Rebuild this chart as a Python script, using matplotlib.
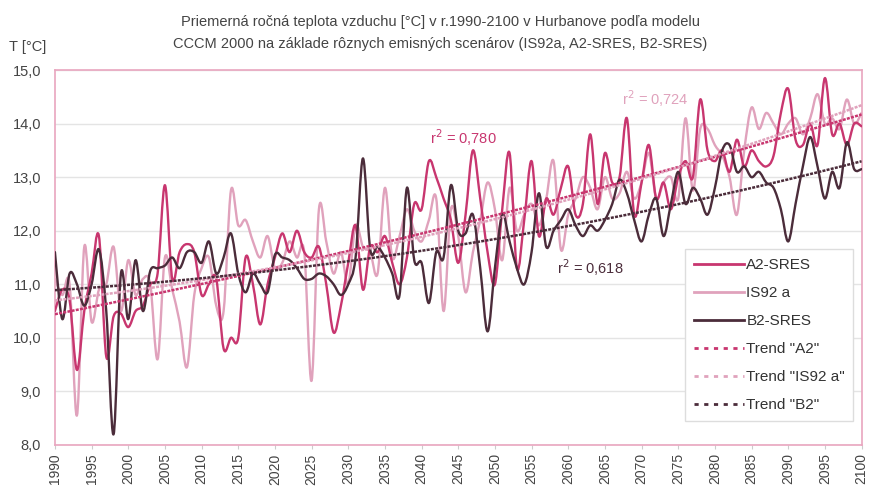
import numpy as np
import matplotlib
matplotlib.use('Agg')
import matplotlib.pyplot as plt
from matplotlib.path import Path
from matplotlib.patches import PathPatch
from matplotlib.lines import Line2D

plt.rcParams['font.family'] = ['Liberation Sans', 'DejaVu Sans']

years = np.arange(1990, 2101)

a2_sres = [10.5, 10.9, 10.7, 9.4, 10.5, 11.2, 11.9, 9.65, 10.4, 10.45,
           10.2, 10.5, 10.6, 11.0, 11.2, 12.85, 11.1, 11.6, 11.75, 11.6,
           10.8, 11.0, 11.1, 9.8, 10.0, 10.0, 11.5, 11.0, 10.25, 11.0,
           11.5, 11.95, 11.6, 12.0, 11.6, 11.5, 11.7, 11.0, 10.1, 10.6,
           11.4, 12.1, 10.9, 11.7, 11.6, 11.9, 11.4, 11.0, 11.5, 12.5,
           12.4, 13.3, 13.0, 12.6, 12.2, 11.4, 12.3, 13.5, 12.6, 11.6,
           11.0, 12.4, 13.45, 11.3, 12.2, 13.3, 11.9, 12.6, 12.3, 12.8,
           13.2, 12.3, 12.5, 13.8, 12.5, 13.45, 12.9, 13.0, 14.1, 12.3,
           12.9, 13.6, 12.6, 12.9, 12.4, 13.0, 13.3, 13.0, 14.45, 13.5,
           13.3, 13.5, 13.1, 13.7, 13.2, 13.5, 13.3, 13.2, 13.4, 14.2,
           14.65, 13.7, 13.6, 14.0, 13.6, 14.85, 13.8, 14.0, 13.6, 14.0,
           13.95]

is92a = [11.1, 10.8, 11.0, 8.55, 11.7, 10.3, 10.9, 11.0, 11.7, 10.5,
         11.45, 10.8, 11.1, 11.0, 9.6, 11.5, 10.9, 10.3, 9.45, 10.8,
         11.3, 11.5, 10.6, 10.5, 12.75, 12.1, 12.2, 11.8, 11.5, 11.9,
         11.3, 11.4, 11.8, 11.5, 11.6, 9.2, 12.4, 11.8, 11.2, 11.6,
         11.0, 12.1, 11.7, 11.6, 11.2, 12.8, 11.5, 11.9, 12.4, 12.0,
         11.8, 12.2, 12.6, 10.5, 12.4, 11.9, 10.85, 11.6, 12.2, 12.9,
         12.4, 11.45, 12.8, 12.0, 12.3, 12.5, 12.1, 12.6, 13.3, 11.65,
         12.3, 12.6, 13.0, 12.8, 12.4, 13.0, 12.6, 12.7, 13.1, 12.6,
         12.9, 13.45, 12.6, 12.9, 13.0, 12.6, 14.1, 12.75, 13.9, 13.9,
         13.6, 13.4, 13.0, 12.3, 13.5, 14.3, 13.9, 14.2, 14.0, 13.8,
         14.0, 14.1, 13.8, 14.1, 14.55, 14.0, 14.1, 13.9, 14.45, 14.0,
         14.2]

b2_sres = [11.6, 10.35, 11.2, 11.0, 10.6, 11.0, 11.65, 10.5, 8.2, 11.2,
           10.35, 11.45, 10.5, 11.25, 11.3, 11.35, 11.5, 11.3, 11.6, 11.6,
           11.4, 11.8, 11.2, 11.5, 11.95, 11.2, 10.85, 11.2, 11.0, 10.85,
           11.55, 11.5, 11.45, 11.3, 11.1, 11.1, 11.2, 11.15, 11.0, 10.8,
           11.0, 11.5, 13.35, 11.65, 11.7, 11.5, 11.2, 10.8, 12.8, 11.45,
           11.4, 10.65, 11.6, 11.5, 12.85, 12.0, 11.95, 12.3, 11.3, 10.12,
           11.3, 12.3, 11.8, 11.3, 11.0, 11.6, 12.7, 11.7, 12.0, 12.2,
           12.4, 12.1, 11.9, 12.1, 12.0, 12.2, 12.5, 12.95, 12.7, 12.2,
           11.8, 12.3, 12.6, 11.9, 12.5, 13.1, 12.5, 12.8, 12.6, 12.3,
           12.8, 13.5, 13.6, 13.1, 13.2, 13.0, 13.1, 12.9, 12.8, 12.4,
           11.8, 12.5, 13.2, 13.75, 13.2, 12.6, 13.1, 12.8, 13.65, 13.15,
           13.15]

labels = ['A2-SRES', 'IS92 a', 'B2-SRES']
trend_labels = ['Trend "A2"', 'Trend "IS92 a"', 'Trend "B2"']
r2_text = ['0,780', '0,724', '0,618']
r2_pos = [(2041.2, 13.62), (2067.3, 14.35), (2058.5, 11.2)]

c_a2, c_is, c_b2 = '#c8366f', '#e0a2bc', '#4b2c3a'
frame = '#e9a6bf'


def smooth_path(x, y):
    # Excel-like smoothed line: Catmull-Rom segments as cubic Bezier curves
    x = np.asarray(x, float)
    y = np.asarray(y, float)
    px = np.concatenate([[x[0]], x, [x[-1]]])
    py = np.concatenate([[y[0]], y, [y[-1]]])
    verts = [(x[0], y[0])]
    codes = [Path.MOVETO]
    for i in range(1, len(x)):
        p0 = np.array([px[i - 1], py[i - 1]])
        p1 = np.array([px[i], py[i]])
        p2 = np.array([px[i + 1], py[i + 1]])
        p3 = np.array([px[i + 2], py[i + 2]])
        verts += [tuple(p1 + (p2 - p0) / 6), tuple(p2 - (p3 - p1) / 6), tuple(p2)]
        codes += [Path.CURVE4] * 3
    return Path(verts, codes)


fig = plt.figure(figsize=(8.72, 4.9), dpi=100)
ax = fig.add_axes([0.063, 0.092, 0.925, 0.765])

for data, col, z in [(is92a, c_is, 2), (a2_sres, c_a2, 3), (b2_sres, c_b2, 4)]:
    ax.add_patch(PathPatch(smooth_path(years, data), fill=False, ec=col, lw=1.7,
                           zorder=z, capstyle='round', joinstyle='round'))

for data, col in [(a2_sres, c_a2), (is92a, c_is), (b2_sres, c_b2)]:
    coef = np.polyfit(years - 1990, data, 2)
    ax.plot(years, np.polyval(coef, years - 1990), color=col, lw=1.8,
            ls=(0, (1.2, 0.5)), zorder=5)

for txt, (xx, yy), col in zip(r2_text, r2_pos, [c_a2, c_is, c_b2]):
    ax.text(xx, yy, r'r$^2$ = ' + txt, color=col, fontsize=10.5, zorder=6)

ax.set_xlim(1990, 2100)
ax.set_ylim(8, 15)
ax.set_xticks(np.arange(1990, 2101, 5))
ax.set_xticklabels([str(v) for v in range(1990, 2101, 5)], rotation=90,
                   fontsize=10, color='#444444')
ax.set_yticks(np.arange(8, 15.1, 1))
ax.set_yticklabels([f'{v:.1f}'.replace('.', ',') for v in np.arange(8, 15.1, 1)],
                   fontsize=10.5, color='#444444')
ax.tick_params(axis='y', length=0, pad=10)
ax.tick_params(axis='x', length=3, color='#cccccc', pad=3)
ax.grid(axis='y', color='#e4e4e4', lw=1)
ax.set_axisbelow(True)
for s in ax.spines.values():
    s.set_color(frame)
    s.set_linewidth(1.2)

handles = [Line2D([], [], color=c_a2, lw=2), Line2D([], [], color=c_is, lw=2),
           Line2D([], [], color=c_b2, lw=2),
           Line2D([], [], color=c_a2, lw=2, ls=(0, (1.5, 2))),
           Line2D([], [], color=c_is, lw=2, ls=(0, (1.5, 2))),
           Line2D([], [], color=c_b2, lw=2, ls=(0, (1.5, 2)))]
leg = ax.legend(handles, labels + trend_labels, loc='lower right',
                bbox_to_anchor=(0.99, 0.065), frameon=True, fancybox=False,
                edgecolor='#dddddd', framealpha=1, handlelength=3.3, handletextpad=0.15,
                labelspacing=0.92, borderpad=0.55, borderaxespad=0, prop={'size': 11})
for t in leg.get_texts():
    t.set_color('#333333')
leg.set_zorder(10)

fig.text(0.505, 0.955, 'Priemerná ročná teplota vzduchu [°C] v r.1990-2100 v Hurbanove podľa modelu',
         ha='center', va='center', fontsize=10.5, color='#444444')
fig.text(0.505, 0.91, 'CCCM 2000 na základe rôznych emisných scenárov (IS92a, A2-SRES, B2-SRES)',
         ha='center', va='center', fontsize=10.5, color='#444444')
fig.text(0.01, 0.905, 'T [°C]', ha='left', va='center', fontsize=10.5, color='#444444')

fig.savefig('out.png', dpi=100, facecolor='white')
